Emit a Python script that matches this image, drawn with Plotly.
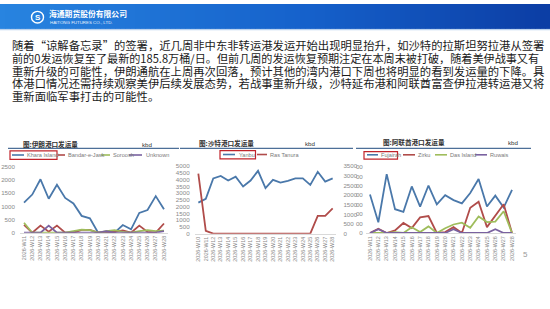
import plotly.graph_objects as go

# ---------------- data ----------------
iran_weeks = ["2026-W11", "2026-W12", "2026-W13", "2026-W14", "2026-W15", "2026-W16",
              "2026-W17", "2026-W18", "2026-W19", "2026-W20", "2026-W21", "2026-W22",
              "2026-W23", "2026-W24", "2026-W25", "2026-W26", "2026-W27", "2026-W28"]
khara_island = [1140, 1450, 2030, 1290, 1820, 1320, 1110, 640, 545, 0, 0, 0, 290, 130, 750, 860, 1390, 890]
bandar_e_jask = [300, 0, 270, 40, 270, 0, 0, 110, 110, 0, 40, 30, 90, 0, 270, 30, 0, 350]
soroosh = [380, 0, 0, 0, 0, 0, 60, 120, 100, 0, 60, 100, 30, 0, 60, 100, 60, 80]
unknown = [0, 0, 0, 270, 0, 0, 0, 0, 0, 0, 60, 0, 0, 0, 0, 0, 0, 60]

saudi_weeks = ["2026-W10", "2026-W11", "2026-W12", "2026-W13", "2026-W14", "2026-W15",
               "2026-W16", "2026-W17", "2026-W18", "2026-W19", "2026-W20", "2026-W21",
               "2026-W22", "2026-W23", "2026-W24", "2026-W25", "2026-W26", "2026-W27", "2026-W28"]
yanbu = [2300, 2580, 4100, 4280, 3940, 4230, 3500, 3940, 4660, 3380, 3990, 3790, 3910,
         4100, 4100, 3620, 4590, 3860, 4100]
ras_tanura = [3120, 150, 0, 0, 0, 0, 0, 0, 0, 0, 0, 0, 0, 0, 0, 0, 920, 920, 1310]

uae_weeks = ["2026-W11", "2026-W12", "2026-W13", "2026-W14", "2026-W15", "2026-W16",
             "2026-W17", "2026-W18", "2026-W19", "2026-W20", "2026-W21", "2026-W22",
             "2026-W23", "2026-W24", "2026-W25", "2026-W26", "2026-W27", "2026-W28"]
fujairah = [2035, 570, 3120, 1260, 1120, 2465, 1400, 2515, 1520, 2000, 1740, 1570, 2120,
            2860, 1400, 1980, 1350, 2290]
zirku = [0, 220, 0, 140, 530, 260, 830, 900, 0, 50, 310, 0, 1340, 1660, 310, 910, 1520, 0]
das_island = [0, 0, 0, 50, 0, 300, 50, 350, 0, 250, 450, 550, 280, 880, 580, 600, 1150, 0]
ruwais = [0, 200, 0, 0, 0, 0, 0, 0, 0, 0, 200, 0, 0, 0, 0, 200, 0, 0]

iran_ticks = [0, 500, 1000, 1500, 2000, 2500]
saudi_left_ticks = [0, 500, 1000, 1500, 2000, 2500, 3000, 3500, 4000, 4500, 5000]
saudi_right_ticks = [0, 500, 1000, 1500, 2000, 2500, 3000, 3500]
uae_ticks = [0, 500, 1000, 1500, 2000, 2500, 3000, 3500]
uae_tick_text = ["0", "00", "00", "00", "00", "00", "00", "00"]

body_lines = [
    "随着“谅解备忘录”的签署，近几周非中东非转运港发运开始出现明显抬升，如沙特的拉斯坦努拉港从签署",
    "前的0发运恢复至了最新的185.8万桶/日。但前几周的发运恢复预期注定在本周末被打破，随着美伊战事又有",
    "重新升级的可能性，伊朗通航在上周再次回落，预计其他的湾内港口下周也将明显的看到发运量的下降。具",
    "体港口情况还需持续观察美伊后续发展态势，若战事重新升级，沙特延布港和阿联酋富查伊拉港转运港又将",
    "重新面临军事打击的可能性。",
]

# ---------------- styling ----------------
W, H = 550, 309
def X(p):
    return p / W
def Y(p):
    return 1 - p / H

BLUE = "#4a78aa"
RED = "#b04c4a"
GREEN = "#9fbd5c"
PURPLE = "#7a62a0"
LW = 1.8
CJK = "Noto Sans CJK SC"
LAT = "Liberation Sans"
TICK_C = "#8a8a8a"

fig = go.Figure()

def add_line(x, y, color, name, xa, ya):
    fig.add_trace(go.Scatter(x=x, y=y, mode="lines", name=name,
                             line=dict(color=color, width=LW),
                             xaxis=xa, yaxis=ya, showlegend=False,
                             hoverinfo="skip"))

add_line(iran_weeks, khara_island, BLUE, "Khara Island", "x", "y")
add_line(iran_weeks, bandar_e_jask, RED, "Bandar-e-Jask", "x", "y")
add_line(iran_weeks, soroosh, GREEN, "Soroosh", "x", "y")
add_line(iran_weeks, unknown, PURPLE, "Unknown", "x", "y")

add_line(saudi_weeks, yanbu, BLUE, "Yanbu", "x2", "y2")
add_line(saudi_weeks, ras_tanura, RED, "Ras Tanura", "x2", "y3")

add_line(uae_weeks, fujairah, BLUE, "Fujairah", "x3", "y4")
add_line(uae_weeks, zirku, RED, "Zirku", "x3", "y4")
add_line(uae_weeks, das_island, GREEN, "Das Island", "x3", "y4")
add_line(uae_weeks, ruwais, PURPLE, "Ruwais", "x3", "y4")

def xaxis(domain, cats, anchor):
    return dict(domain=domain, anchor=anchor, type="category", categoryorder="array",
                categoryarray=cats, range=[-0.5, len(cats) - 0.5], tickangle=-90,
                tickfont=dict(family=LAT, size=5.4, color=TICK_C), showgrid=False,
                showline=True, linecolor="#d9d9d9", linewidth=1, ticks="", zeroline=False,
                fixedrange=True)

def yaxis(domain, rng, vals, anchor, side="left", text=None, standoff=4):
    d = dict(domain=domain, anchor=anchor, range=rng, tickmode="array", tickvals=vals,
             tickfont=dict(family=LAT, size=6.2, color=TICK_C), showgrid=False,
             showline=False, ticks="", zeroline=False, side=side, fixedrange=True,
             ticklabelstandoff=standoff)
    if text is not None:
        d["ticktext"] = text
    return d

layout = dict(
    width=W, height=H, margin=dict(l=0, r=0, t=0, b=0),
    paper_bgcolor="white", plot_bgcolor="rgba(0,0,0,0)", showlegend=False,
    xaxis=xaxis([X(19.9), X(168.1)], iran_weeks, "y"),
    yaxis=yaxis([Y(234), Y(166.7)], [0, 2500], iran_ticks, "x", standoff=4),
    xaxis2=xaxis([X(194.6), X(336.4)], saudi_weeks, "y2"),
    yaxis2=yaxis([Y(235), Y(166)], [0, 5000], saudi_left_ticks, "x2", standoff=4),
    xaxis3=xaxis([X(365.8), X(516.2)], uae_weeks, "y4"),
    yaxis4=yaxis([Y(234.3), Y(166.7)], [0, 3500], uae_ticks, "x3", text=uae_tick_text, standoff=2),
)
y3 = yaxis([Y(235), Y(166)], [0, 3500], saudi_right_ticks, "x2", side="right", standoff=6)
y3["overlaying"] = "y2"
layout["yaxis3"] = y3
fig.update_layout(**layout)

shapes = []
annotations = []

# header gradient band
n = 110
c0 = (40, 132, 224)
c1 = (22, 98, 204)
c2 = (12, 62, 165)
for i in range(n):
    t = i / (n - 1)
    if t < 0.55:
        u = t / 0.55
        c = tuple(int(c0[k] + (c1[k] - c0[k]) * u) for k in range(3))
    else:
        u = (t - 0.55) / 0.45
        c = tuple(int(c1[k] + (c2[k] - c1[k]) * u) for k in range(3))
    shapes.append(dict(type="rect", xref="paper", yref="paper",
                       x0=X(i * W / n), x1=X((i + 1) * W / n + 0.6), y0=Y(25.5), y1=Y(0),
                       fillcolor="rgb(%d,%d,%d)" % c, line=dict(width=0), layer="below"))
shapes.append(dict(type="line", xref="paper", yref="paper", x0=0, x1=1, y0=Y(26.3), y1=Y(26.3),
                   line=dict(color="#bcd3ee", width=1.2), layer="below"))
# logo
shapes.append(dict(type="circle", xref="paper", yref="paper", x0=X(31.5), x1=X(43.5),
                   y0=Y(19.5), y1=Y(7.5), line=dict(color="white", width=1.4), fillcolor="rgba(0,0,0,0)"))
annotations.append(dict(text="<b>S</b>", x=X(37.5), y=Y(13.5), xref="paper", yref="paper",
                        showarrow=False, font=dict(family=LAT, size=8, color="white"),
                        xanchor="center", yanchor="middle"))
annotations.append(dict(text="<b>海通期货股份有限公司</b>", x=X(47), y=Y(10.2), xref="paper", yref="paper",
                        showarrow=False, font=dict(family=CJK, size=7.8, color="white"),
                        xanchor="left", yanchor="middle"))
annotations.append(dict(text="HAITONG FUTURES CO., LTD.", x=X(47.5), y=Y(19.3), xref="paper", yref="paper",
                        showarrow=False, font=dict(family=LAT, size=4.4, color="#e8f0fb"),
                        xanchor="left", yanchor="middle"))

# body text
line_y = [41.7, 55.0, 68.2, 81.3, 94.5]
line_sizes = [11.33, 11.12, 11.33, 11.33, 11.33]
for txt, yy, fs in zip(body_lines, line_y, line_sizes):
    annotations.append(dict(text=txt, x=X(9.5), y=Y(yy), xref="paper", yref="paper",
                            showarrow=False, font=dict(family=CJK, size=fs, color="#1a1a1a"),
                            xanchor="left", yanchor="middle"))

# chart titles, units, underlines
def title(txt, x, y):
    annotations.append(dict(text=txt, x=X(x), y=Y(y), xref="paper", yref="paper", showarrow=False,
                            font=dict(family=CJK, size=6.6, color="#333333"),
                            xanchor="left", yanchor="middle"))

def unit(x, y):
    annotations.append(dict(text="kbd", x=X(x), y=Y(y), xref="paper", yref="paper", showarrow=False,
                            font=dict(family=LAT, size=6.2, color="#333333"),
                            xanchor="left", yanchor="middle"))

title("<b>图:伊朗港口发运量</b>", 21, 143.3)
unit(140, 143.3)
title("<b>图:沙特港口发运量</b>", 197, 142.7)
unit(303.5, 142.7)
title("<b>图:阿联酋港口发运量</b>", 381, 141.7)
unit(506, 141.7)
for x0, x1 in [(8, 179), (180, 353), (356, 531)]:
    shapes.append(dict(type="line", xref="paper", yref="paper", x0=X(x0), x1=X(x1),
                       y0=Y(147.8), y1=Y(147.8), line=dict(color="#4d6f98", width=1.3)))

# manual legends
def legend_item(x_line0, x_line1, x_text, y, color, label):
    shapes.append(dict(type="line", xref="paper", yref="paper", x0=X(x_line0), x1=X(x_line1),
                       y0=Y(y), y1=Y(y), line=dict(color=color, width=1.6)))
    annotations.append(dict(text=label, x=X(x_text), y=Y(y), xref="paper", yref="paper",
                            showarrow=False, font=dict(family=LAT, size=5.6, color="#7a7a7a"),
                            xanchor="left", yanchor="middle"))

def red_box(x0, x1, y0, y1):
    shapes.append(dict(type="rect", xref="paper", yref="paper", x0=X(x0), x1=X(x1),
                       y0=Y(y1), y1=Y(y0), line=dict(color="#c0242b", width=1.2),
                       fillcolor="rgba(0,0,0,0)"))

ly = 154.5
legend_item(12, 24, 25, ly, BLUE, "Khara Island")
legend_item(58, 65, 66, ly, RED, "Bandar-e-Jask")
legend_item(101, 110, 111, ly, GREEN, "Soroosh")
legend_item(129, 142, 143.5, ly, PURPLE, "Unknown")
red_box(10, 57, 150.3, 159)

legend_item(223, 235, 237, 154, BLUE, "Yanbu")
legend_item(257, 267, 268, 154, RED, "Ras Tanura")
red_box(220, 255.5, 150, 158.5)

legend_item(367, 378, 379, 154.3, BLUE, "Fujairah")
legend_item(403, 415, 416, 154.3, RED, "Zirku")
legend_item(435, 447, 448, 154.3, GREEN, "Das Island")
legend_item(475, 487, 488, 154.3, PURPLE, "Ruwais")
red_box(364, 397.5, 151, 158.8)

# page number
annotations.append(dict(text="5", x=X(525), y=Y(256), xref="paper", yref="paper", showarrow=False,
                        font=dict(family=LAT, size=8, color="#9a9a9a"), xanchor="center", yanchor="middle"))

fig.update_layout(shapes=shapes, annotations=annotations)
fig.write_html("out.html")
